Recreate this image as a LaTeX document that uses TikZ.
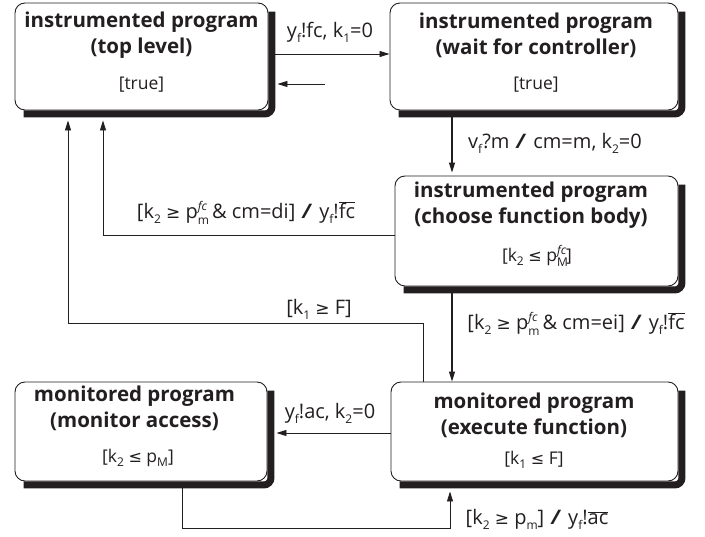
\documentclass[tikz,border=0pt]{standalone}
\usepackage{fontspec}
\setmainfont{Open Sans}
\newfontfamily\symf{DejaVu Sans}
\usetikzlibrary{arrows.meta}
\newcommand\sbs[1]{\raisebox{-0.45ex}{\fontsize{12}{12}\selectfont #1}}
\newcommand\pfc[1]{p\rlap{\raisebox{-0.55ex}{\fontsize{12}{12}\selectfont #1}}\raisebox{0.75ex}{\fontsize{12}{12}\selectfont\itshape fc}}
\newcommand\GE{{\symf\fontsize{17}{17}\selectfont ≥}}
\newcommand\LE{{\symf\fontsize{16}{16}\selectfont ≤}}
\newcommand\ovl[1]{\ensuremath{\overline{\hbox{#1}}}}
\newcommand\actsep{\hspace{0.35em}\textbf{\itshape /}\hspace{0.35em}}
\definecolor{ink}{HTML}{231F20}
\begin{document}
\begin{tikzpicture}[
  box/.style={draw=ink, line width=0.9pt, rounded corners=10pt, fill=white, inner sep=0pt},
  shadowline/.style={draw=ink, line width=7pt, rounded corners=7pt},
  title/.style={font=\fontsize{20.5}{26}\selectfont\bfseries, text=ink, align=center, inner sep=0pt},
  cond/.style={font=\fontsize{17.5}{22}\selectfont, text=ink, inner sep=0pt},
  lbl/.style={font=\fontsize{20}{24}\selectfont, text=ink, inner sep=0pt},
  arr/.style={draw=ink, line width=0.8pt, -{Triangle[length=10pt,width=6pt]}},
  tarr/.style={draw=ink, line width=1.3pt, -{Triangle[length=10pt,width=6pt]}}]
\begin{scope}[x=1pt,y=-1pt]
\path[use as bounding box] (0,0) rectangle (705,537);

% boxes
\node[box, minimum width=253pt, minimum height=107pt] (b1) at (141.5,56.5) {};
\node[box, minimum width=288pt, minimum height=107pt] (b2) at (534,56.5) {};
\node[box, minimum width=283pt, minimum height=110pt] (b3) at (536.5,231) {};
\node[box, minimum width=287pt, minimum height=99pt] (b5) at (534.5,431.5) {};
\node[box, minimum width=252pt, minimum height=99pt] (b4) at (141,431.5) {};

% shadows
\foreach \bx in {b1,b2,b3,b4,b5}
  \draw[shadowline] ([shift={(3.5pt,-9pt)}]\bx.north east) -- ([shift={(3.5pt,-3.5pt)}]\bx.south east) -- ([shift={(9pt,-3.5pt)}]\bx.south west);

% box texts
\node[title] (t1) at (141.5,35) {instrumented program\\(top level)};
\node[cond] (c1) at (141.5,85) {[true]};
\node[title] (t2) at (536,35) {instrumented program\\(wait for controller)};
\node[cond] (c2) at (536,85) {[true]};
\node[title] (t3) at (531,205) {instrumented program\\(choose function body)};
\node[cond] (c3) at (537,256) {[k\sbs{2} \LE{} \pfc{M}]};
\node[title] (t5) at (534,415) {monitored program\\(execute function)};
\node[cond] (c5) at (534,460) {[k\sbs{1} \LE{} F]};
\node[title] (t4) at (134.5,408.5) {monitored program\\(monitor access)};
\node[cond] (c4) at (138,458) {[k\sbs{2} \LE{} p\sbs{M}]};

% helper coordinates
\coordinate (xa) at (452,0);
\coordinate (xb) at (103,235);
\coordinate (xc) at (423,323);
\coordinate (xd) at (68,323);
\coordinate (xe) at (182,528);
\coordinate (xf) at (450,528);
\coordinate (back) at (325,84);

% connectors
\draw[arr] ([yshift=2.5pt,xshift=7pt]b1.east) -- ([yshift=2.5pt]b2.west);
\draw[arr] (back) -- ([xshift=9pt]back -| b1.east);
\draw[tarr] ([yshift=-7pt]b2.south -| xa) -- ([yshift=3pt]b3.north -| xa);
\draw[arr] (xb -| b3.west) -- (xb) -- ([yshift=-10pt]b1.south -| xb);
\draw[arr] (b5.north -| xc) -- (xc) -- (xd) -- ([yshift=-10pt]b1.south -| xd);
\draw[tarr] ([yshift=-7pt]b3.south -| xa) -- (b5.north -| xa);
\draw[arr] ([yshift=-1.5pt]b5.west) -- ([yshift=-1.5pt,xshift=9pt]b4.east);
\draw[arr] ([yshift=-7pt]b4.south -| xe) -- (xe) -- (xf) -- ([yshift=-10pt]b5.south -| xf);

% labels
\node[lbl] (l1) at (330,32) {y\sbs{f}!fc, k\sbs{1}=0};
\node[lbl] (l2) at (555,143) {v\sbs{f}?m\actsep cm=m, k\sbs{2}=0};
\node[lbl] (l3) at (246,213) {[k\sbs{2} \GE{} \pfc{m} \& cm=di]\actsep y\sbs{f}!\ovl{fc}};
\node[lbl] (l4) at (319,309) {[k\sbs{1} \GE{} F]};
\node[lbl] (l5) at (576,324) {[k\sbs{2} \GE{} \pfc{m} \& cm=ei]\actsep y\sbs{f}!\ovl{fc}};
\node[lbl] (l6) at (330,413) {y\sbs{f}!ac, k\sbs{2}=0};
\node[lbl] (l7) at (537,519) {[k\sbs{2} \GE{} p\sbs{m}]\actsep y\sbs{f}!\ovl{ac}};
\end{scope}
\end{tikzpicture}
\end{document}
